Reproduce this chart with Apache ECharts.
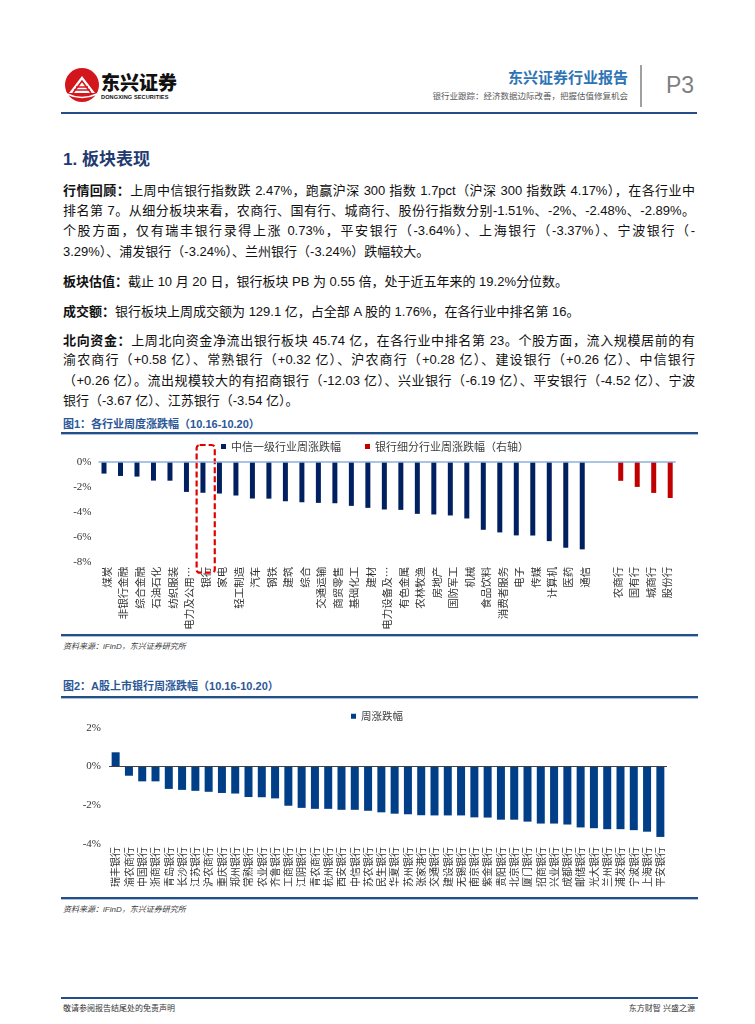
<!DOCTYPE html>
<html><head><meta charset="utf-8">
<script src="https://cdn.jsdelivr.net/npm/echarts/dist/echarts.min.js"></script>
<style>
html,body{margin:0;padding:0;background:#fff;}
body{width:755px;height:1024px;position:relative;overflow:hidden;font-family:"Liberation Sans","Noto Sans CJK SC",sans-serif;color:#111;}
.abs{position:absolute;white-space:nowrap;}
.ln{position:absolute;left:63px;width:632px;font-size:13px;line-height:20px;height:20px;white-space:nowrap;text-align:justify;text-align-last:justify;}
.ln.last{text-align:left;text-align-last:left;}
.ln b{font-family:"Noto Sans CJK SC",sans-serif;font-weight:700;}
.ttl{position:absolute;left:63px;font-size:11px;font-weight:700;color:#2b5797;font-family:"Liberation Sans","Noto Sans CJK SC",sans-serif;}
.rule{position:absolute;left:61px;width:637px;height:2px;background:#234f86;}
.rule2{position:absolute;left:61px;width:637px;height:1px;background:#a7c0e0;}
.src{position:absolute;left:63px;font-size:8px;font-style:italic;color:#404040;}
#chart{position:absolute;left:0;top:0;width:755px;height:1024px;}
</style></head>
<body>
<!-- header -->
<svg class="abs" style="left:64px;top:67px" width="36" height="36" viewBox="0 0 36 36">
  <circle cx="18" cy="18" r="17" fill="#d3151c"/>
  <path d="M5 26 L18 9 L31 26 Z" fill="#fff"/>
  <path d="M9 26 L18 14 L27 26" fill="none" stroke="#d3151c" stroke-width="1.6"/>
  <path d="M12 20 L24 20 M10 23 L26 23" stroke="#d3151c" stroke-width="1.4"/>
  <path d="M3 27 Q18 34 33 27" fill="none" stroke="#fff" stroke-width="1.6"/>
</svg>
<div class="abs" style="left:101px;top:71px;font-size:19px;font-weight:900;font-family:'Noto Sans CJK SC';color:#111;letter-spacing:0px;line-height:22px;">东兴证券</div>
<div class="abs" style="left:101px;top:94px;font-size:5.6px;font-weight:700;color:#111;letter-spacing:0.1px;">DONGXING SECURITIES</div>
<div class="abs" style="right:127px;top:67px;font-size:15px;font-weight:700;color:#2e74b5;font-family:'Noto Sans CJK SC';line-height:20px;">东兴证券行业报告</div>
<div class="abs" style="right:127px;top:90px;font-size:8.5px;color:#595959;line-height:12px;">银行业跟踪：经济数据边际改善，把握估值修复机会</div>
<div class="abs" style="left:640px;top:65px;width:1.5px;height:42px;background:#a0a0a0;"></div>
<div class="abs" style="left:666px;top:71px;font-size:23px;color:#7f7f7f;font-family:'Liberation Sans Narrow','Liberation Sans';line-height:28px;">P3</div>
<div class="abs" style="left:61px;top:112px;width:636px;height:2px;background:#234f86;"></div>

<div class="abs" style="left:63px;top:148px;font-size:17px;font-weight:700;color:#1f3b70;line-height:24px;font-family:'Liberation Sans','Noto Sans CJK SC';">1. 板块表现</div>

<div class="ln" style="top:180px"><b>行情回顾：</b>上周中信银行指数跌 2.47%，跑赢沪深 300 指数 1.7pct（沪深 300 指数跌 4.17%），在各行业中</div>
<div class="ln" style="top:200.5px">排名第 7。从细分板块来看，农商行、国有行、城商行、股份行指数分别-1.51%、-2%、-2.48%、-2.89%。</div>
<div class="ln" style="top:221px">个股方面，仅有瑞丰银行录得上涨 0.73%，平安银行（-3.64%）、上海银行（-3.37%）、宁波银行（-</div>
<div class="ln last" style="top:241.5px">3.29%）、浦发银行（-3.24%）、兰州银行（-3.24%）跌幅较大。</div>
<div class="ln last" style="top:271px"><b>板块估值：</b>截止 10 月 20 日，银行板块 PB 为 0.55 倍，处于近五年来的 19.2%分位数。</div>
<div class="ln last" style="top:300.5px"><b>成交额：</b>银行板块上周成交额为 129.1 亿，占全部 A 股的 1.76%，在各行业中排名第 16。</div>
<div class="ln" style="top:329.5px"><b>北向资金：</b>上周北向资金净流出银行板块 45.74 亿，在各行业中排名第 23。个股方面，流入规模居前的有</div>
<div class="ln" style="top:350px">渝农商行（+0.58 亿）、常熟银行（+0.32 亿）、沪农商行（+0.28 亿）、建设银行（+0.26 亿）、中信银行</div>
<div class="ln" style="top:370.5px">（+0.26 亿）。流出规模较大的有招商银行（-12.03 亿）、兴业银行（-6.19 亿）、平安银行（-4.52 亿）、宁波</div>
<div class="ln last" style="top:391px">银行（-3.67 亿）、江苏银行（-3.54 亿）。</div>

<div class="ttl" style="top:415px;">图1：各行业周度涨跌幅（10.16-10.20）</div>
<div class="rule" style="top:432px"></div><div class="rule2" style="top:434px"></div>
<div class="rule" style="top:634px"></div><div class="rule2" style="top:636px"></div>
<div class="src" style="top:640px;">资料来源：iFinD，东兴证券研究所</div>

<div class="ttl" style="top:677px;">图2：A股上市银行周涨跌幅（10.16-10.20）</div>
<div class="rule" style="top:696px"></div><div class="rule2" style="top:698px"></div>
<div class="rule" style="top:897px"></div><div class="rule2" style="top:899px"></div>
<div class="src" style="top:903px;">资料来源：iFinD，东兴证券研究所</div>

<div class="abs" style="left:61px;top:997px;width:637px;height:2px;background:#234f86;"></div>
<div class="abs" style="left:63px;top:1002px;font-size:8px;color:#333;">敬请参阅报告结尾处的免责声明</div>
<div class="abs" style="right:60px;top:1002px;font-size:8px;color:#333;">东方财智 兴盛之源</div>

<div id="chart"></div>
<script>
// ---- Data ----
const industryNames = ['煤炭','非银行金融','综合金融','石油石化','纺织服装','电力及公用事业','银行','家电','轻工制造','汽车','钢铁','建筑','综合','交通运输','商贸零售','基础化工','建材','电力设备及新能源','有色金属','农林牧渔','房地产','国防军工','机械','食品饮料','消费者服务','电子','传媒','计算机','医药','通信'];
const industryChange = [-0.93,-1.12,-1.17,-1.49,-1.50,-2.40,-2.47,-2.53,-2.69,-2.93,-2.94,-3.15,-3.23,-3.28,-3.31,-3.52,-3.68,-3.81,-3.84,-4.16,-4.21,-4.29,-4.53,-5.44,-5.65,-5.89,-5.90,-6.35,-6.88,-7.01];
const bankTypeNames = ['农商行','国有行','城商行','股份行'];
const bankTypeChange = [-1.51,-2.00,-2.48,-2.89];
const bankNames = ['瑞丰银行','渝农商行','中国银行','浙商银行','青岛银行','长沙银行','江苏银行','沪农商行','重庆银行','郑州银行','常熟银行','农业银行','齐鲁银行','工商银行','江阴银行','青农商行','杭州银行','西安银行','中信银行','苏农银行','民生银行','华夏银行','苏州银行','张家港行','交通银行','建设银行','无锡银行','南京银行','紫金银行','贵阳银行','北京银行','厦门银行','招商银行','兴业银行','成都银行','邮储银行','光大银行','兰州银行','浦发银行','宁波银行','上海银行','平安银行'];
const bankChange = [0.73,-0.48,-0.77,-0.77,-1.16,-1.21,-1.26,-1.31,-1.37,-1.40,-1.58,-1.59,-1.65,-2.03,-2.14,-2.19,-2.19,-2.24,-2.24,-2.29,-2.37,-2.44,-2.47,-2.52,-2.53,-2.53,-2.53,-2.63,-2.64,-2.75,-2.75,-2.85,-2.95,-2.95,-3.00,-3.15,-3.19,-3.24,-3.24,-3.29,-3.37,-3.64];
const seriesNames1 = ['中信一级行业周涨跌幅','银行细分行业周涨跌幅（右轴）'];
const seriesName2 = '周涨跌幅';
const highlightCategory = '银行';

// ---- Build ----
const cat1 = industryNames.concat([''], bankTypeNames);
const blueData = industryChange.concat(new Array(cat1.length - industryChange.length).fill(null));
const redData = new Array(cat1.length - bankTypeChange.length).fill(null).concat(bankTypeChange);

const serif = 'Liberation Serif';
const cjk = 'Noto Sans CJK SC';
const pct = v => v + '%';
const trunc = s => s.length > 5 ? s.slice(0,5) + '…' : s;
const legendText = {fontSize:11, color:'#404040', fontFamily:cjk};

const chart = echarts.init(document.getElementById('chart'), null, {renderer:'canvas'});
chart.setOption({
  animation:false,
  backgroundColor:'transparent',
  legend:[
    {data:[seriesNames1[0]], left:221, top:441, padding:0, icon:'rect', itemWidth:5, itemHeight:5, textStyle:legendText},
    {data:[seriesNames1[1]], left:365, top:441, padding:0, icon:'rect', itemWidth:5, itemHeight:5, textStyle:legendText},
    {data:[seriesName2], left:351, top:711, padding:0, icon:'rect', itemWidth:5, itemHeight:5,
     textStyle:{fontSize:10.5, color:'#404040', fontFamily:cjk}}
  ],
  grid:[
    {left:98.5, top:462, width:577.2, height:99.7},
    {left:109, top:727.7, width:558, height:116.2}
  ],
  xAxis:[
    {gridIndex:0, type:'category', data:cat1, position:'bottom',
     axisLine:{show:false, onZero:false}, axisTick:{show:false},
     axisLabel:{interval:0, rotate:90, margin:5, fontSize:10.5, color:'#333', fontFamily:cjk, formatter:trunc}},
    {gridIndex:1, type:'category', data:bankNames, position:'bottom',
     axisLine:{show:false, onZero:false}, axisTick:{show:false},
     axisLabel:{interval:0, rotate:90, margin:3, fontSize:10, color:'#333', fontFamily:cjk}}
  ],
  yAxis:[
    {gridIndex:0, type:'value', min:-8, max:0, interval:2, axisLine:{show:false}, axisTick:{show:false}, splitLine:{show:false},
     axisLabel:{formatter:pct, fontSize:11, color:'#333', fontFamily:serif, margin:7}},
    {gridIndex:0, type:'value', min:-8, max:0, interval:2, show:false, splitLine:{show:false}},
    {gridIndex:1, type:'value', min:-4, max:2, interval:2, axisLine:{show:false}, axisTick:{show:false}, splitLine:{show:false},
     axisLabel:{formatter:pct, fontSize:11, color:'#333', fontFamily:serif, margin:8}}
  ],
  series:[
    {name:seriesNames1[0], type:'bar', xAxisIndex:0, yAxisIndex:0, data:blueData, barWidth:5, barGap:'10%',
     itemStyle:{color:'#002060'},
     markLine:{silent:true, symbol:'none', label:{show:false}, lineStyle:{color:'#8eb1dc', width:1.5, type:'solid'}, data:[{yAxis:0}]}},
    {name:seriesNames1[1], type:'bar', xAxisIndex:0, yAxisIndex:1, data:redData, barWidth:5, barGap:'10%',
     itemStyle:{color:'#c00000'}},
    {name:seriesName2, type:'bar', xAxisIndex:1, yAxisIndex:2, data:bankChange, barWidth:8,
     itemStyle:{color:'#003f88'},
     markLine:{silent:true, symbol:'none', label:{show:false}, lineStyle:{color:'#404040', width:1, type:'solid'}, data:[{yAxis:0}]}}
  ]
});

// dashed highlight box around the bank category, positioned from the axis scales
const idx = cat1.indexOf(highlightCategory);
const pA = chart.convertToPixel({xAxisIndex:0, yAxisIndex:0}, [idx, 0]);
const pB = chart.convertToPixel({xAxisIndex:0, yAxisIndex:0}, [idx + 1, -8]);
const step = pB[0] - pA[0];
const boxW = step * 1.1;
chart.setOption({graphic:[{
  type:'rect', silent:true,
  shape:{x:pA[0] - boxW/2, y:pA[1] - 17, width:boxW, height:(pB[1] - pA[1]) + 28, r:3},
  style:{fill:'none', stroke:'#e00000', lineWidth:2.2, lineDash:[6,3]}
}]});
</script>
</body></html>
